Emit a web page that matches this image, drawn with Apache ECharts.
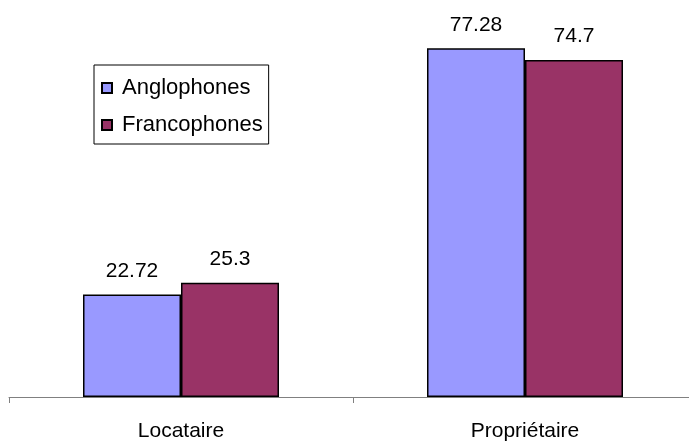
<!DOCTYPE html>
<html><head><meta charset="utf-8">
<script src="https://cdn.jsdelivr.net/npm/echarts@6/dist/echarts.min.js"></script>
<style>html,body{margin:0;padding:0;background:#fff;overflow:hidden}#c{width:700px;height:442px}</style>
</head><body><div id="c"></div>
<script>
var categories = ['Locataire', 'Propriétaire'];
var anglophones = [22.72, 77.28];
var francophones = [25.3, 74.7];
var seriesNames = ['Anglophones', 'Francophones'];

var chart = echarts.init(document.getElementById('c'));
var font = 'Arial, "Liberation Sans", sans-serif';
var lbl = {show: true, position: 'top', distance: 13, color: '#000', fontSize: 21, fontFamily: font};
chart.setOption({
  animation: false,
  backgroundColor: '#fff',
  grid: {left: 9, top: 36, width: 688, height: 363, containLabel: false},
  legend: {
    orient: 'vertical', left: 94, top: 65,
    data: seriesNames,
    itemWidth: 10, itemHeight: 10, itemGap: 15,
    icon: 'rect',
    borderColor: '#000', borderWidth: 1, padding: [12, 6, 8, 7],
    textStyle: {fontSize: 22, fontFamily: font, color: '#000', padding: [0, 0, 0, 5]}
  },
  xAxis: {
    type: 'category', data: categories,
    axisLine: {lineStyle: {color: '#808080', width: 1}},
    axisTick: {show: true, alignWithLabel: false, length: 6, lineStyle: {color: '#808080'}},
    axisLabel: {fontSize: 21, fontFamily: font, color: '#000', margin: 24}
  },
  yAxis: {type: 'value', min: 0, max: 80, show: false, splitLine: {show: false}},
  series: [
    {name: seriesNames[0], type: 'bar', data: anglophones, barWidth: 98, barGap: '0%',
     itemStyle: {color: '#9999FF', borderColor: '#000', borderWidth: 1.5}, label: lbl},
    {name: seriesNames[1], type: 'bar', data: francophones, barWidth: 98, barGap: '0%',
     itemStyle: {color: '#993366', borderColor: '#000', borderWidth: 1.5}, label: lbl}
  ]
});
</script></body></html>
